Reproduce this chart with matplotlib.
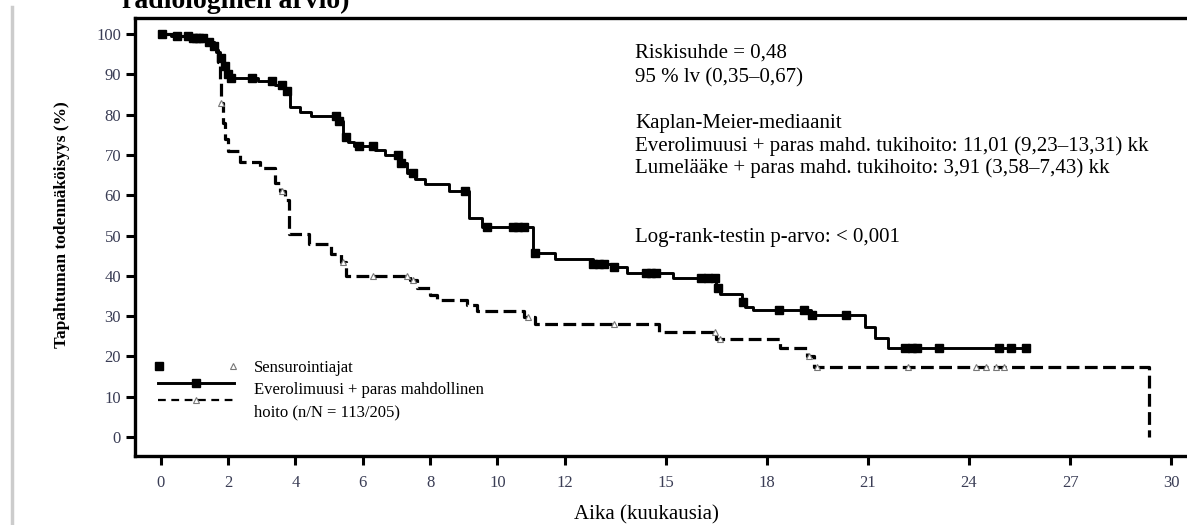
import matplotlib
matplotlib.use("Agg")
import matplotlib.pyplot as plt
import numpy as np
from matplotlib.lines import Line2D
from matplotlib.transforms import Affine2D
from matplotlib.legend_handler import HandlerBase, HandlerLine2D

plt.rcParams['font.family'] = ['Liberation Serif', 'DejaVu Serif']

# Everolimus + best supportive care (step times / survival %)
evero_t = [0, 0.3, 0.9, 1.35, 1.5, 1.65, 1.75, 1.85, 1.95, 2.05,
           2.9, 3.4, 3.65, 3.85, 4.15, 4.45, 5.3, 5.4, 5.55, 5.75,
           6.35, 6.65, 7.1, 7.3, 7.55, 7.85, 8.55, 9.15, 9.55, 11.05,
           11.7, 12.85, 13.4, 13.85, 15.2, 16.5, 16.6, 17.25, 17.35, 17.6,
           19.3, 20.9, 21.2, 21.6]
evero_s = [100, 99.5, 99, 98, 97, 95.5, 94, 92, 90, 89,
           88.3, 87.3, 86, 82, 80.7, 79.7, 78.5, 74.5, 73.3, 72.2,
           71.2, 70, 68, 65.5, 64, 62.7, 61, 54.3, 52.2, 45.6,
           44.3, 43, 42.3, 40.6, 39.4, 37, 35.6, 33.5, 32.3, 31.6,
           30.3, 27.2, 24.5, 22]
evero_end = 25.7
evero_cens = [0.05, 0.5, 0.8, 0.95, 1.05, 1.15, 1.25, 1.45, 1.6, 1.8, 1.9,
              2.0, 2.1, 2.7, 3.3, 3.6, 3.75, 5.2, 5.3, 5.5, 5.9, 6.3, 7.05,
              7.15, 7.5, 9.05, 9.7, 10.45, 10.6, 10.8, 11.1, 12.85, 13.0,
              13.15, 13.45, 14.4, 14.55, 14.7, 16.05, 16.25, 16.45, 16.55,
              17.3, 18.35, 19.1, 19.35, 20.35, 22.1, 22.3, 22.45, 23.1,
              24.9, 25.25, 25.7]

# Placebo + best supportive care
plac_t = [0, 0.5, 1.0, 1.4, 1.6, 1.7, 1.75, 1.8, 1.85, 1.9,
          2.0, 2.35, 2.95, 3.4, 3.55, 3.7, 3.8, 4.4, 5.05, 5.35,
          5.5, 7.4, 7.6, 8.0, 8.2, 9.1, 9.4, 10.8, 11.1, 14.8,
          16.5, 18.4, 19.2, 19.4, 29.35]
plac_s = [100, 99.5, 99, 98, 96, 93, 88, 83, 78, 74,
          71, 68.3, 66.7, 63, 61, 58.8, 50.5, 48, 45.5, 43.5,
          40, 38.9, 36.9, 35.2, 34, 32.8, 31.4, 29.9, 28, 26.1,
          24.3, 22, 20, 17.4, 0]
plac_cens = [1.8, 3.6, 5.4, 6.3, 7.3, 7.5, 10.9, 13.45, 16.45, 16.6,
             19.25, 19.5, 22.2, 24.2, 24.5, 24.8, 25.05]

x_ticks = [0, 2, 4, 6, 8, 10, 12, 15, 18, 21, 24, 27, 30]
y_ticks = [0, 10, 20, 30, 40, 50, 60, 70, 80, 90, 100]

stats_lines = ["Riskisuhde = 0,48",
               "95 % lv (0,35\u20130,67)",
               "Kaplan-Meier-mediaanit",
               "Everolimuusi + paras mahd. tukihoito: 11,01 (9,23\u201313,31) kk",
               "Lumelääke + paras mahd. tukihoito: 3,91 (3,58\u20137,43) kk",
               "Log-rank-testin p-arvo: < 0,001"]
stats_baseline_px = [58, 82, 128, 151, 173, 242]

W, H = 1187, 525
AX_L, AX_T, AX_B = 135, 18, 456


def surv_at(t, s, times):
    idx = np.searchsorted(t, times, side='right') - 1
    return np.asarray(s)[idx]


class EndsHandler(HandlerBase):
    # square at the left end, triangle at the right end of the handle
    def create_artists(self, legend, orig_handle, xdescent, ydescent,
                       width, height, fontsize, trans):
        y = height / 2 - ydescent
        sq = Line2D([-xdescent + 1], [y], ls='none', marker='s', ms=6,
                    color='black', transform=trans)
        tri = Line2D([width - xdescent - 1], [y], ls='none', marker='^',
                     ms=4, mfc='white', mec='#777777', mew=0.8,
                     transform=trans)
        return [sq, tri]


class ShiftedLine(HandlerLine2D):
    # legend line drawn a bit above its text row
    def __init__(self, dy, **kw):
        super().__init__(**kw)
        self.dy = dy

    def create_artists(self, legend, orig_handle, xdescent, ydescent,
                       width, height, fontsize, trans):
        trans = Affine2D().translate(0, self.dy) + trans
        return super().create_artists(legend, orig_handle, xdescent, ydescent,
                                      width, height, fontsize, trans)


fig = plt.figure(figsize=(W/100, H/100), dpi=100)
ax = fig.add_axes([AX_L/W, 1 - AX_B/H, 1 - AX_L/W, (AX_B - AX_T)/H])

# Everolimus curve
et = list(evero_t) + [evero_end]
es = list(evero_s) + [evero_s[-1]]
ax.step(et, es, where='post', color='black', lw=2.1, zorder=3)
ax.plot(evero_cens, surv_at(evero_t, evero_s, evero_cens), ls='none',
        marker='s', ms=6, color='black', zorder=4)

# Placebo curve
ax.step(plac_t, plac_s, where='post', color='black', lw=2.3,
        dashes=(4.0, 1.7), zorder=2)
ax.plot(plac_cens, surv_at(plac_t, plac_s, plac_cens), ls='none',
        marker='^', ms=4, mfc='white', mec='#777777', mew=0.8, zorder=4)

ax.set_xlim(-0.76, 30.47)
ax.set_ylim(-4.7, 104)
ax.set_xticks(x_ticks)
ax.set_yticks(y_ticks)
ax.tick_params(direction='out', length=6.5, width=2.2, labelsize=12,
               labelcolor='#3a3d55')
ax.tick_params(axis='x', pad=7)
ax.tick_params(axis='y', pad=3.5)
for side in ['left', 'bottom', 'top']:
    ax.spines[side].set_linewidth(2.4)
ax.spines['right'].set_visible(False)

ax.set_xlabel('Aika (kuukausia)', fontsize=15)
ax.xaxis.set_label_coords((646 - AX_L)/(W - AX_L), (AX_B - 505)/(AX_B - AX_T))
ax.set_ylabel('Tapahtuman todennäköisyys (%)', fontsize=12.5,
              fontweight='bold')
ax.yaxis.set_label_coords((70 - AX_L)/(W - AX_L), (AX_B - 225)/(AX_B - AX_T))

# Statistics text
for line, py in zip(stats_lines, stats_baseline_px):
    ax.text((635 - AX_L)/(W - AX_L), (AX_B - py)/(AX_B - AX_T), line,
            transform=ax.transAxes, fontsize=15, va='baseline')

# Legend
h_cens = Line2D([], [])
h_evero = Line2D([], [], color='black', lw=2.1, marker='s', ms=6)
h_plac = Line2D([], [], color='black', lw=1.6, dashes=(3.5, 2.5), marker='^',
                ms=4, mfc='white', mec='#777777', mew=0.8)
ax.legend([h_cens, h_evero, h_plac],
          ['Sensurointiajat', 'Everolimuusi + paras mahdollinen',
           'hoito (n/N = 113/205)'],
          handler_map={h_cens: EndsHandler(), h_evero: ShiftedLine(3.6),
                       h_plac: ShiftedLine(7.9)},
          loc='upper left',
          bbox_to_anchor=((158 - AX_L)/(W - AX_L), (AX_B - 360)/(AX_B - AX_T)),
          frameon=False, fontsize=12, handlelength=4.56, handletextpad=1.2,
          labelspacing=0.37, numpoints=1, borderpad=0, borderaxespad=0)

# cut-off heading above the chart and page margin line
fig.text(122/W, 1 - 8/H, 'radiologinen arvio)', fontsize=20,
         fontweight='bold', va='baseline')
fig.add_artist(Line2D([12/W, 12/W], [0, 1 - 7/H], color='#cccccc', lw=2.5))

fig.savefig('out.png', dpi=100)
